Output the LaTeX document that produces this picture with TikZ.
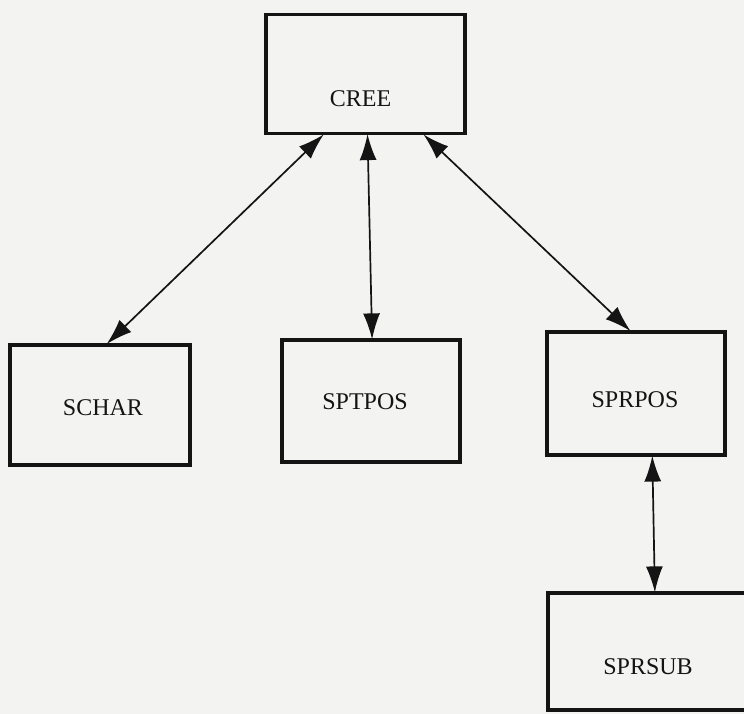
\documentclass[tikz,border=0pt]{standalone}
\usepackage{fontspec}
\setmainfont{Liberation Serif}
\usetikzlibrary{arrows.meta,calc}
\definecolor{paper}{RGB}{243,243,241}
\definecolor{ink}{RGB}{20,20,20}
\tikzset{
  box/.style={draw=ink, line width=3.2pt, rectangle, inner sep=0pt},
  lbl/.style={font=\fontsize{24}{26}\selectfont, text=ink},
  link/.style={draw=ink, line width=1.7pt, {Latex[length=26pt,width=17pt]}-{Latex[length=26pt,width=17pt]}, shorten <=-1pt, shorten >=-1pt}
}
\begin{document}
\begin{tikzpicture}[x=1pt,y=-1pt]
\useasboundingbox (0,0) rectangle (744,714);
\fill[paper] (0,0) rectangle (744,714);
\clip (0,0) rectangle (744,714);
\node[box, minimum width=199pt, minimum height=119pt, label={[lbl, xshift=-5pt, yshift=-25pt]center:CREE}] (cree) at (365.5,74) {};
\node[box, minimum width=180pt, minimum height=120pt, label={[lbl, xshift=3pt, yshift=-3pt]center:SCHAR}] (schar) at (100,405) {};
\node[box, minimum width=178pt, minimum height=122pt, label={[lbl, xshift=-6pt, yshift=-1pt]center:SPTPOS}] (sptpos) at (371,401) {};
\node[box, minimum width=178pt, minimum height=123pt, label={[lbl, xshift=-1pt, yshift=-6.5pt]center:SPRPOS}] (sprpos) at (636,393.5) {};
\node[box, minimum width=240pt, minimum height=117pt, label={[lbl, xshift=-20pt, yshift=-15.5pt]center:SPRSUB}] (sprsub) at (668,651.5) {};
\draw[link] ($(cree.south west)!0.29!(cree.south east)$) -- ($(schar.north west)!0.54!(schar.north east)$);
\draw[link] ($(cree.south west)!0.51!(cree.south east)$) -- ($(sptpos.north west)!0.506!(sptpos.north east)$);
\draw[link] ($(cree.south west)!0.79!(cree.south east)$) -- ($(sprpos.north west)!0.466!(sprpos.north east)$);
\draw[link] ($(sprpos.south west)!0.59!(sprpos.south east)$) -- ($(sprsub.north west)!0.446!(sprsub.north east)$);
\end{tikzpicture}
\end{document}
